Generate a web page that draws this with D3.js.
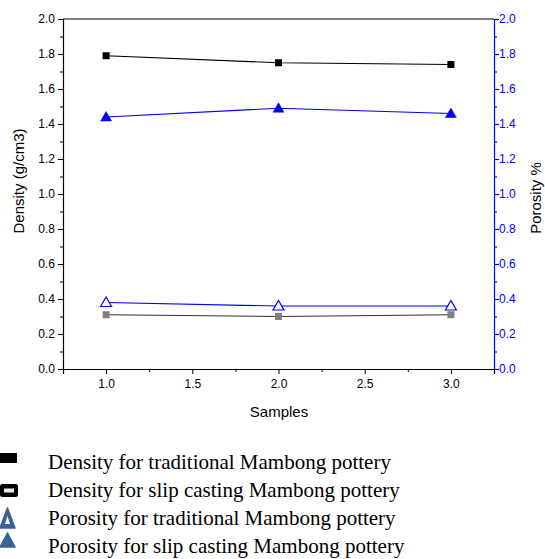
<!DOCTYPE html>
<html><head><meta charset="utf-8">
<script src="https://cdn.jsdelivr.net/npm/d3@7"></script>
<style>body{margin:0;background:#fff}svg{display:block}</style>
</head><body>
<svg id="c" width="545" height="559"></svg>
<script>
const samples = [1, 2, 3];
const densityTraditional = [1.79, 1.75, 1.74];
const densitySlip = [0.31, 0.30, 0.31];
const porosityTraditional = [1.44, 1.49, 1.46];
const porositySlip = [0.38, 0.36, 0.36];
const yTicks = [0, 0.2, 0.4, 0.6, 0.8, 1.0, 1.2, 1.4, 1.6, 1.8, 2.0];
const xTicks = [1.0, 1.5, 2.0, 2.5, 3.0];
const legendLabels = [
  "Density for traditional Mambong pottery",
  "Density for slip casting Mambong pottery",
  "Porosity for traditional Mambong pottery",
  "Porosity for slip casting Mambong pottery"
];

const svg = d3.select("#c");
const L = 63, R = 494, T = 19, B = 369;
const x = d3.scaleLinear().domain([0.75, 3.25]).range([L, R]);
const yL = d3.scaleLinear().domain([0, 2]).range([B, T]);
const yR = d3.scaleLinear().domain([0, 2]).range([B, T]);
const blue = "#0000ff";
const font = "'Liberation Sans', Arial, sans-serif";
const tickFs = 12, titleFs = 15;

// top border
svg.append("line").attr("x1", L).attr("x2", R).attr("y1", T).attr("y2", T).attr("stroke", "#000").attr("stroke-width", 1.2);

const minorY = d3.range(0.1, 2, 0.2);
const minorX = [0.75, 1.25, 1.75, 2.25, 2.75, 3.25];

// left axis
const gL = svg.append("g").attr("transform", `translate(${L},0)`)
  .call(d3.axisLeft(yL).tickValues(yTicks).tickFormat(d3.format(".1f")).tickSize(5).tickPadding(3));
gL.append("g").call(d3.axisLeft(yL).tickValues(minorY).tickFormat("").tickSize(3)).select(".domain").remove();
gL.selectAll("path.domain").attr("stroke", "#000").attr("stroke-width", 1.2);
gL.selectAll("text").attr("font-family", font).attr("font-size", tickFs).attr("fill", "#000");

// right axis
const gR = svg.append("g").attr("transform", `translate(${R},0)`)
  .call(d3.axisRight(yR).tickValues(yTicks).tickFormat(d3.format(".1f")).tickSize(5).tickPadding(0));
gR.append("g").call(d3.axisRight(yR).tickValues(minorY).tickFormat("").tickSize(3)).select(".domain").remove();
gR.selectAll("path.domain, line").attr("stroke", blue).attr("stroke-width", 1.2);
gR.selectAll("text").attr("font-family", font).attr("font-size", tickFs).attr("fill", blue);

// bottom axis
const gB = svg.append("g").attr("transform", `translate(0,${B})`)
  .call(d3.axisBottom(x).tickValues(xTicks).tickFormat(d3.format(".1f")).tickSize(5).tickPadding(5));
gB.append("g").call(d3.axisBottom(x).tickValues(minorX).tickFormat("").tickSize(3)).select(".domain").remove();
gB.selectAll("path.domain").attr("stroke", "#000").attr("stroke-width", 1.2);
gB.selectAll("text").attr("font-family", font).attr("font-size", tickFs).attr("fill", "#000");

// axis titles
svg.append("text").attr("transform", `translate(24,181) rotate(-90)`).attr("text-anchor", "middle")
  .attr("font-family", font).attr("font-size", titleFs).text("Density (g/cm3)");
svg.append("text").attr("transform", `translate(541,198) rotate(-90)`).attr("text-anchor", "middle")
  .attr("font-family", font).attr("font-size", titleFs).text("Porosity %");
svg.append("text").attr("x", 279).attr("y", 417).attr("text-anchor", "middle")
  .attr("font-family", font).attr("font-size", titleFs).text("Samples");

function series(vals, yS, lineColor, marker) {
  const line = d3.line().x((d, i) => x(samples[i])).y(d => yS(d));
  svg.append("path").datum(vals).attr("d", line).attr("fill", "none").attr("stroke", lineColor).attr("stroke-width", 1.2);
  vals.forEach((v, i) => marker(x(samples[i]), yS(v)));
}
const square = (fill) => (cx, cy) => svg.append("rect").attr("x", cx - 3.5).attr("y", cy - 3.5).attr("width", 7).attr("height", 7).attr("fill", fill);
const tri = (fill, stroke) => (cx, cy) => svg.append("path")
  .attr("d", `M${cx},${cy - 5.5} L${cx + 5.5},${cy + 4} L${cx - 5.5},${cy + 4} Z`)
  .attr("fill", fill).attr("stroke", stroke).attr("stroke-width", fill === "#fff" ? 1.2 : 0.5);

series(densityTraditional, yL, "#000", square("#000"));
series(porosityTraditional, yR, blue, tri(blue, blue));
series(porositySlip, yR, blue, tri("#fff", blue));
series(densitySlip, yL, "#333", square("#808080"));

// legend
const lg = svg.append("g");
const legC = "#3a6296";
const rowY = [469, 497, 525, 553];
lg.append("rect").attr("x", 0).attr("y", 453).attr("width", 17).attr("height", 10).attr("fill", "#000");
lg.append("rect").attr("x", 0).attr("y", 484).attr("width", 18).attr("height", 13).attr("rx", 2.5).attr("fill", "#000");
lg.append("rect").attr("x", 4).attr("y", 488.5).attr("width", 10).attr("height", 4).attr("fill", "#ecebdf");
lg.append("path").attr("d", "M7.5,508 L15,528 L0,528 Z").attr("fill", legC).attr("stroke", legC).attr("stroke-linejoin", "round").attr("stroke-width", 1.5);
lg.append("path").attr("d", "M7.5,516 L10,524 L5,524 Z").attr("fill", "#fff");
lg.append("path").attr("d", "M7.5,533 L15,547 L0,547 Z").attr("fill", legC).attr("stroke", legC).attr("stroke-linejoin", "round").attr("stroke-width", 1.5);
legendLabels.forEach((t, i) => {
  lg.append("text").attr("x", 48).attr("y", rowY[i]).attr("font-family", "'Liberation Serif', 'Times New Roman', serif")
    .attr("font-size", 21).attr("fill", "#000").text(t);
});
</script>
</body></html>
